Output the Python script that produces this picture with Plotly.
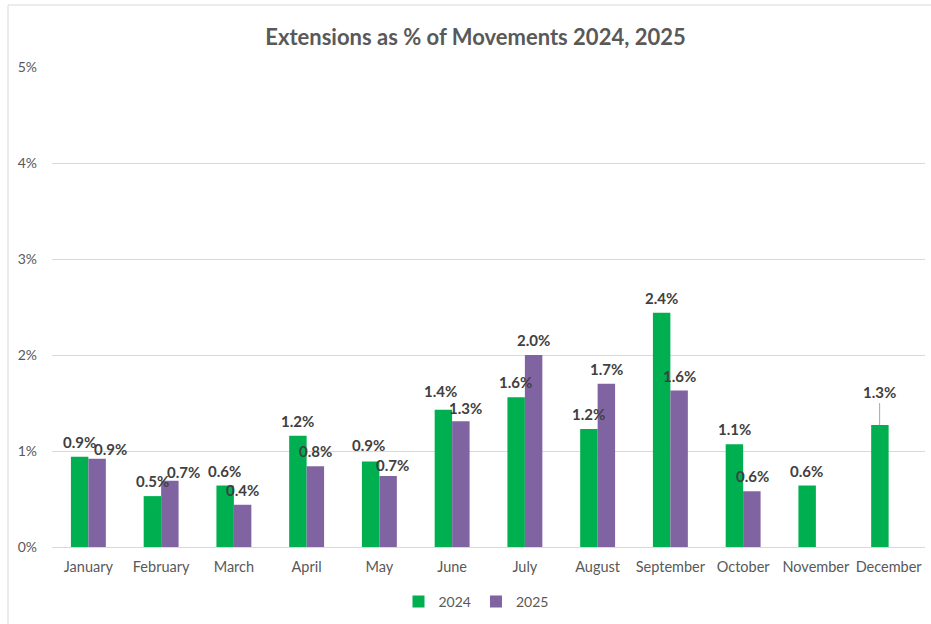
import plotly.graph_objects as go

months = ["January", "February", "March", "April", "May", "June", "July",
          "August", "September", "October", "November", "December"]
vals_2024 = [0.94, 0.53, 0.64, 1.16, 0.89, 1.43, 1.56, 1.23, 2.44, 1.07, 0.64, 1.27]
vals_2025 = [0.92, 0.69, 0.44, 0.84, 0.74, 1.31, 2.00, 1.70, 1.63, 0.58, None, None]
series_names = ["2024", "2025"]
colors = ["#00B050", "#8064A2"]
y_ticks = [0, 1, 2, 3, 4, 5]
y_tick_text = ["0%", "1%", "2%", "3%", "4%", "5%"]

FONT = "Lato, 'Open Sans', sans-serif"

# small manual nudges for a few data labels (pixels: dx, dy-up)
label_nudges = {
    ("2025", "January"): (13, -5),
    ("2025", "February"): (13, -6),
    ("2024", "May"): (-2, 2),
    ("2025", "May"): (4, -4),
    ("2024", "June"): (-3, 4),
    ("2025", "June"): (4, -2),
}

fig = go.Figure()
for name, vals, col in zip(series_names, [vals_2024, vals_2025], colors):
    fig.add_trace(go.Bar(x=months, y=vals, name=name, marker_color=col,
                         marker_line_width=0))

annotations = []
lab_font = dict(family=FONT, size=15, color="#404040", weight="bold")
for si, (name, vals) in enumerate(zip(series_names, [vals_2024, vals_2025])):
    shift = -9 if si == 0 else 9
    for m, v in zip(months, vals):
        if v is None:
            continue
        txt = f"{v:.1f}%"
        dx, dy = label_nudges.get((name, m), (0, 0))
        if m == "December":
            annotations.append(dict(x=m, y=v, text=txt, showarrow=True, ax=0, ay=-22,
                                    arrowhead=0, arrowwidth=1, arrowcolor="#A6A6A6",
                                    xshift=shift, yanchor="bottom", font=lab_font))
        else:
            annotations.append(dict(x=m, y=v, text=txt, showarrow=False,
                                    xshift=shift + dx, yshift=15 + dy, yanchor="middle",
                                    font=lab_font))

fig.update_layout(
    width=931, height=624,
    margin=dict(l=52, r=6, t=67, b=77),
    paper_bgcolor="white", plot_bgcolor="white",
    barmode="group", bargap=0.52, bargroupgap=0,
    title=dict(text="Extensions as % of Movements 2024, 2025",
               x=475.5 / 931, xanchor="center", xref="container",
               y=1 - 37 / 624, yanchor="middle", yref="container",
               font=dict(family=FONT, size=22, color="#595959", weight="bold")),
    xaxis=dict(showgrid=False, showline=True, linecolor="#D9D9D9", linewidth=1,
               ticks="", ticklabelstandoff=7, automargin=False,
               tickfont=dict(family=FONT, size=14.5, color="#595959")),
    yaxis=dict(range=[0, 5], tickvals=y_ticks, ticktext=y_tick_text,
               showgrid=True, gridcolor="#D9D9D9", gridwidth=1, zeroline=False,
               showline=False, ticks="", ticklabelstandoff=14, automargin=False,
               tickfont=dict(family=FONT, size=14, color="#595959")),
    legend=dict(orientation="h", xref="container", x=476 / 931, xanchor="center",
                yref="container", y=(624 - 602) / 624, yanchor="middle",
                font=dict(family=FONT, size=14, color="#595959"), itemwidth=30),
    annotations=annotations,
    shapes=[dict(type="rect", xref="paper", yref="paper",
                 x0=-44 / 873, x1=1.2, y0=-0.3, y1=(547 - 5) / 480,
                 line=dict(color="#D9D9D9", width=1), fillcolor="rgba(0,0,0,0)",
                 layer="below")],
)

fig.write_html("out.html", config={"displayModeBar": False},
               post_script="document.body.style.margin='0';document.body.style.overflow='hidden';")
